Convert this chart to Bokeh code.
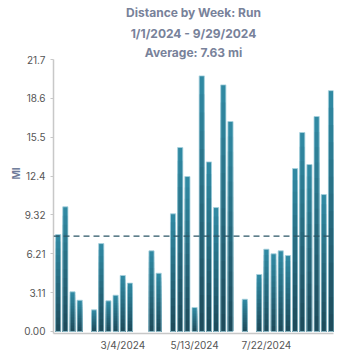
from bokeh.plotting import figure
from bokeh.models import Title, FixedTicker, Span, Range1d
from bokeh.embed import file_html
from bokeh.resources import INLINE

# ---- data ----
weeks = list(range(39))
miles = [7.75, 9.97, 3.17, 2.50, 0, 1.73, 7.03, 2.45, 2.90, 4.48, 3.87, 0, 0,
         6.45, 4.66, 0, 9.41, 14.71, 12.39, 1.92, 20.44, 13.56, 9.91, 19.72,
         16.79, 0, 2.58, 0, 4.56, 6.58, 6.21, 6.45, 6.07, 13.03, 15.91, 13.35,
         17.19, 10.95, 19.26]
average = 7.63
x_tick_weeks = [9, 19, 29]
x_tick_labels = ["3/4/2024", "5/13/2024", "7/22/2024"]
y_ticks = [0, 3.107, 6.214, 9.321, 12.429, 15.536, 18.643, 21.75]
y_tick_labels = ["0.00", "3.11", "6.21", "9.32", "12.4", "15.5", "18.6", "21.7"]
titles = ["Distance by Week: Run", "1/1/2024 - 9/29/2024", "Average: 7.63 mi"]

FONT = "Inter"
TITLE_COLOR = "#78829a"

xs = [w for w, m in zip(weeks, miles) if m > 0]
ys = [m for m in miles if m > 0]

p = figure(width=346, height=353, output_backend="svg", toolbar_location=None,
           x_range=Range1d(-0.65, 38.35), y_range=Range1d(-0.16, 21.75),
           min_border_left=53, min_border_right=13, min_border_bottom=0,
           min_border_top=0)
p.outline_line_color = None
p.grid.visible = False

def style_title(t, standoff):
    t.align = "center"
    t.standoff = standoff
    t.text_font = FONT
    t.text_font_size = "12px"
    t.text_font_style = "bold"
    t.text_color = TITLE_COLOR

# outermost title is p.title; added titles go between it and the frame
p.title.text = titles[0]
style_title(p.title, 4)
for txt, so in [(titles[2], 0), (titles[1], 4)]:
    t = Title(text=txt)
    style_title(t, so)
    p.add_layout(t, "above")

# gradient bars
def lerp(c1, c2, t):
    a = [int(c1[i:i + 2], 16) for i in (1, 3, 5)]
    b = [int(c2[i:i + 2], 16) for i in (1, 3, 5)]
    return "#%02x%02x%02x" % tuple(int(round(a[k] + (b[k] - a[k]) * t)) for k in range(3))

N = 14
top_c, bot_c = "#3089a2", "#1e4c5c"
for i in range(N):
    f = 1 - i / N
    p.vbar(x=xs, top=[y * f for y in ys], bottom=0, width=0.72,
           fill_color=lerp(top_c, bot_c, i / (N - 1)), line_color=None)
p.vbar(x=xs, top=ys, bottom=0, width=0.72, fill_color=None,
       line_color="#a8d2de", line_width=1, line_alpha=0.8)

p.add_layout(Span(location=average, dimension="width", line_color="#2b5566",
                  line_dash="6 4", line_width=1.2))

# axes
xa = p.xaxis[0]
xa.ticker = FixedTicker(ticks=x_tick_weeks)
xa.major_label_overrides = {w: l for w, l in zip(x_tick_weeks, x_tick_labels)}
xa.major_tick_line_color = None
xa.major_tick_out = 0
xa.major_tick_in = 0
xa.minor_tick_line_color = None
xa.axis_line_color = "#c8c8c8"
xa.axis_line_width = 1.5
xa.major_label_text_font = FONT
xa.major_label_text_font_size = "10px"
xa.major_label_text_color = "#555555"
xa.major_label_standoff = 5

ya = p.yaxis[0]
ya.ticker = FixedTicker(ticks=y_ticks)
ya.major_label_overrides = {t: l for t, l in zip(y_ticks, y_tick_labels)}
ya.minor_tick_line_color = None
ya.major_tick_line_color = "#c8c8c8"
ya.major_tick_out = 3
ya.major_tick_in = 0
ya.axis_line_color = "#c8c8c8"
ya.axis_line_width = 1.5
ya.major_label_text_font = FONT
ya.major_label_text_font_size = "10px"
ya.major_label_text_color = "#555555"
ya.major_label_standoff = 5

p.add_layout(Title(text="MI", align="left", offset=154, standoff=0,
                   text_font=FONT, text_font_size="10px", text_font_style="bold",
                   text_color="#6e7b99"), "left")

open("out.html", "w").write(file_html(p, INLINE))
